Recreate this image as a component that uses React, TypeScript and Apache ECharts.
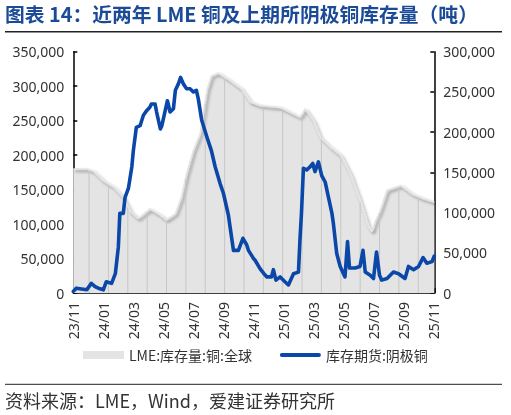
import React, { useEffect, useRef } from "react";
import * as echarts from "echarts";

// Month offsets from 2023-11 (x axis runs 0..24 months)
const xTickLabels = ["23/11", "24/01", "24/03", "24/05", "24/07", "24/09", "24/11", "25/01", "25/03", "25/05", "25/07", "25/09", "25/11"];

// LME:库存量:铜:全球 (left axis, tonnes)
const lmeMonths = [0, 0.9, 1.33, 2.0, 2.67, 3.33, 3.8, 4.33, 5.1, 5.8, 6.2, 6.8, 7.2, 7.55, 8.0, 8.45, 8.9, 9.2, 9.67, 10.45, 11.2, 11.8, 12.45, 13.8, 15.1, 15.45, 16.0, 16.45, 17.1, 17.8, 18.45, 19.1, 19.67, 19.9, 20.1, 20.45, 20.9, 21.8, 22.55, 23.3, 24.05];
const lmeValues = [180000, 180000, 177000, 163000, 154000, 139000, 118000, 108000, 122000, 113000, 106000, 115000, 139000, 173000, 207000, 231000, 294000, 315000, 319000, 308000, 296000, 277000, 272000, 269000, 255000, 267000, 250000, 226000, 212000, 200000, 173000, 134000, 96000, 89000, 103000, 120000, 149000, 156000, 144000, 137000, 132000];

// 库存期货:阴极铜 (right axis, tonnes)
const shfeMonths = [0, 0.2, 0.9, 1.2, 1.45, 1.67, 2.0, 2.2, 2.55, 2.8, 3.0, 3.1, 3.33, 3.45, 3.67, 3.9, 4.0, 4.2, 4.45, 4.67, 4.9, 5.1, 5.2, 5.45, 5.55, 5.8, 5.9, 6.1, 6.27, 6.45, 6.67, 6.8, 7.0, 7.15, 7.33, 7.55, 7.78, 8.0, 8.2, 8.33, 8.55, 8.9, 9.2, 9.45, 9.78, 10.0, 10.33, 10.67, 11.0, 11.3, 11.55, 11.67, 12.0, 12.1, 12.45, 12.7, 12.9, 13.2, 13.33, 13.5, 13.78, 14.1, 14.33, 14.67, 15.0, 15.1, 15.2, 15.33, 15.55, 15.78, 15.95, 16.1, 16.33, 16.55, 16.78, 17.0, 17.23, 17.33, 17.55, 17.78, 18.1, 18.27, 18.4, 18.78, 19.1, 19.3, 19.45, 19.78, 20.0, 20.2, 20.4, 20.55, 20.9, 21.33, 21.67, 22.1, 22.33, 22.67, 23.0, 23.3, 23.55, 23.9, 24.05];
const shfeValues = [2000, 6000, 4000, 12000, 8000, 6000, 4000, 14000, 12000, 24000, 57000, 99000, 99000, 119000, 130000, 157000, 177000, 206000, 208000, 221000, 227000, 231000, 235000, 235000, 225000, 204000, 208000, 225000, 239000, 225000, 229000, 252000, 260000, 268000, 260000, 254000, 254000, 250000, 252000, 241000, 215000, 194000, 177000, 157000, 136000, 124000, 97000, 53000, 53000, 68000, 60000, 53000, 43000, 41000, 30000, 24000, 20000, 20000, 29000, 16000, 20000, 14000, 10000, 24000, 26000, 66000, 99000, 155000, 153000, 157000, 161000, 151000, 163000, 146000, 138000, 119000, 99000, 86000, 49000, 33000, 20000, 64000, 31000, 31000, 33000, 53000, 26000, 22000, 18000, 51000, 22000, 16000, 18000, 26000, 24000, 18000, 33000, 29000, 33000, 44000, 37000, 39000, 46000];

const leftTicks = { min: 0, max: 350000, interval: 50000 };
const rightTicks = { min: 0, max: 300000, interval: 50000 };

const FONT = "'Noto Sans', 'Noto Sans CJK SC', sans-serif";
const CJK = "'Noto Sans CJK SC', 'Noto Sans', sans-serif";
const BLUE = "#0a47a8";
const GREY = "#e4e4e4";

function interp(ms: number[], vs: number[], m: number): number {
  if (m <= ms[0]) return vs[0];
  for (let i = 1; i < ms.length; i++) {
    if (m <= ms[i]) {
      const t = (m - ms[i - 1]) / (ms[i] - ms[i - 1]);
      return vs[i - 1] + t * (vs[i] - vs[i - 1]);
    }
  }
  return vs[vs.length - 1];
}

export default function App() {
  const ref = useRef<HTMLDivElement>(null);
  useEffect(() => {
    if (!ref.current) return;
    const chart = echarts.init(ref.current, null, { renderer: "svg" });
    const lmeData = lmeMonths.map((m, i) => [m, lmeValues[i]]);
    const shfeData = shfeMonths.map((m, i) => [m, shfeValues[i]]);
    // decorative vertical stripes inside the grey area (texture of the original)
    const stripes: number[][] = [];
    for (let m = 1.05; m < 24; m += 1.29) stripes.push([m, interp(lmeMonths, lmeValues, m) * 0.985]);

    const fmt = (v: number) => v.toLocaleString("en-US");
    const option: any = {
      animation: false,
      grid: { left: 73.3, right: 76.7, top: 51.7, bottom: 122, containLabel: false },
      xAxis: {
        type: "value",
        min: 0,
        max: 24.05,
        interval: 2,
        axisLine: { show: true, lineStyle: { color: "#000", width: 1.5 } },
        axisTick: { show: true, inside: true, length: 5, lineStyle: { color: "#000", width: 1.5 } },
        splitLine: { show: false },
        axisLabel: {
          rotate: 90,
          margin: 9,
          fontSize: 14,
          color: "#333",
          fontFamily: FONT,
          showMinLabel: true,
          showMaxLabel: true,
          formatter: (v: number) => {
            const idx = Math.round(v / 2);
            return Math.abs(v - idx * 2) < 1e-6 ? xTickLabels[idx] ?? "" : "";
          },
        },
      },
      yAxis: [
        {
          type: "value",
          position: "left",
          ...leftTicks,
          axisLine: { show: true, lineStyle: { color: "#000", width: 1.5 } },
          axisTick: { show: true, inside: true, length: 4, lineStyle: { color: "#000", width: 1.5 } },
          splitLine: { show: false },
          axisLabel: { fontSize: 14, color: "#333", fontFamily: FONT, margin: 9, formatter: fmt },
        },
        {
          type: "value",
          position: "right",
          ...rightTicks,
          axisLine: { show: true, lineStyle: { color: "#000", width: 1.5 } },
          axisTick: { show: true, inside: true, length: 4, lineStyle: { color: "#000", width: 1.5 } },
          splitLine: { show: false },
          axisLabel: { fontSize: 14, color: "#333", fontFamily: FONT, margin: 9, formatter: fmt },
        },
      ],
      legend: {
        left: 83,
        top: 348,
        padding: 0,
        itemGap: 28,
        itemWidth: 41,
        itemHeight: 8,
        symbolKeepAspect: true,
        textStyle: { fontSize: 14, color: "#333", fontFamily: CJK },
        data: [
          { name: "LME:库存量:铜:全球", icon: "rect", itemStyle: { color: GREY } },
          { name: "库存期货:阴极铜", icon: "path://M2,0H41A2,2 0 0 1 41,4H2A2,2 0 0 1 2,0Z", itemStyle: { color: BLUE } },
        ],
      },
      series: [
        {
          name: "LME:库存量:铜:全球",
          type: "line",
          yAxisIndex: 0,
          data: lmeData,
          symbol: "none",
          z: 1,
          lineStyle: {
            color: GREY,
            width: 1.5,
            shadowColor: "rgba(0,0,0,0.45)",
            shadowBlur: 3,
            shadowOffsetX: 2,
            shadowOffsetY: 2,
          },
          itemStyle: { color: GREY },
          areaStyle: { color: GREY, opacity: 1 },
        },
        {
          type: "custom",
          yAxisIndex: 0,
          z: 2,
          silent: true,
          data: stripes,
          renderItem: (params: any, api: any) => {
            const p0 = api.coord([api.value(0), 0]);
            const p1 = api.coord([api.value(0), api.value(1)]);
            return {
              type: "line",
              shape: { x1: p0[0], y1: p0[1], x2: p1[0], y2: p1[1] },
              style: { stroke: "#c6c6c6", lineWidth: 1 },
            };
          },
        },
        {
          name: "库存期货:阴极铜",
          type: "line",
          yAxisIndex: 1,
          data: shfeData,
          symbol: "none",
          z: 3,
          lineStyle: { color: BLUE, width: 3.6, join: "round", cap: "round" },
          itemStyle: { color: BLUE },
        },
      ],
      graphic: [
        {
          type: "text",
          left: 5,
          top: 4,
          style: {
            text: "图表 14：近两年 LME 铜及上期所阴极铜库存量（吨）",
            fontSize: 19.8,
            fontWeight: "bold",
            fill: "#1b4a97",
            fontFamily: CJK,
          },
        },
        {
          type: "line",
          shape: { x1: 5, y1: 31.7, x2: 502, y2: 31.7 },
          style: { stroke: "#222", lineWidth: 1.5 },
        },
        {
          type: "line",
          shape: { x1: 5, y1: 384.3, x2: 502, y2: 384.3 },
          style: { stroke: "#222", lineWidth: 1 },
        },
        {
          type: "text",
          left: 5,
          top: 391,
          style: {
            text: "资料来源：LME，Wind，爱建证券研究所",
            fontSize: 18,
            fill: "#333",
            fontFamily: CJK,
          },
        },
      ],
    };
    chart.setOption(option);
    return () => chart.dispose();
  }, []);
  return <div ref={ref} style={{ position: "fixed", left: 0, top: 0, width: 511, height: 415 }} />;
}
